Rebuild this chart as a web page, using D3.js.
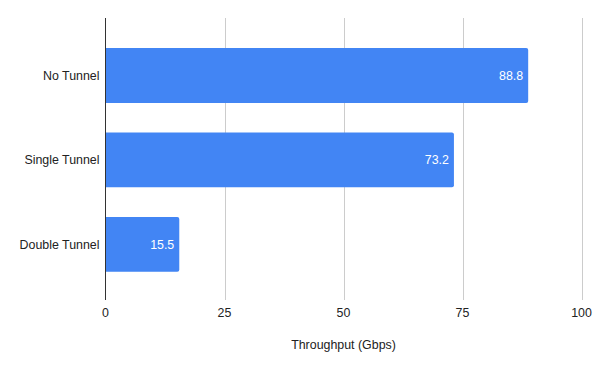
<!DOCTYPE html>
<html>
<head>
<meta charset="utf-8">
<script src="https://cdn.jsdelivr.net/npm/d3@7"></script>
<style>
  html, body { margin: 0; padding: 0; background: #fff; }
  svg { display: block; font-family: "Liberation Sans", Arial, sans-serif; }
</style>
</head>
<body>
<svg id="chart" width="600" height="371"></svg>
<script>
const categories = ["No Tunnel", "Single Tunnel", "Double Tunnel"];
const values = [88.8, 73.2, 15.5];
const tickValues = [0, 25, 50, 75, 100];
const axisTitle = "Throughput (Gbps)";

(function () {
const svg = d3.select("#chart");
const mLeft = 105.5, mRight = 581.5, mTop = 18, mBottom = 300;
const fs = 12.4;

const x = d3.scaleLinear().domain([0, 100]).range([mLeft, mRight]);
const y = d3.scaleBand().domain(categories).range([mTop + 0.5, mBottom + 1.3]).padding(0.35);

// gridlines
svg.append("g")
  .selectAll("line")
  .data(tickValues.filter(d => d > 0))
  .join("line")
  .attr("x1", d => Math.round(x(d)) + 0.5)
  .attr("x2", d => Math.round(x(d)) + 0.5)
  .attr("y1", mTop)
  .attr("y2", mBottom)
  .attr("stroke", "#cccccc")
  .attr("stroke-width", 1);

// bars
const data = categories.map((c, i) => ({ c, v: values[i] }));
svg.append("g")
  .selectAll("path")
  .data(data)
  .join("path")
  .attr("fill", "#4285f4")
  .attr("d", d => {
    const x0 = x(0), x1 = x(d.v), y0 = y(d.c), h = y.bandwidth(), r = 2;
    return `M${x0},${y0}H${x1 - r}Q${x1},${y0} ${x1},${y0 + r}V${y0 + h - r}Q${x1},${y0 + h} ${x1 - r},${y0 + h}H${x0}Z`;
  });

// value labels
svg.append("g")
  .selectAll("text")
  .data(data)
  .join("text")
  .attr("x", d => x(d.v) - 5)
  .attr("y", d => y(d.c) + y.bandwidth() / 2)
  .attr("dy", "0.35em")
  .attr("text-anchor", "end")
  .attr("fill", "#ffffff")
  .attr("font-size", fs)
  .text(d => d.v.toFixed(1));

// axis line
svg.append("line")
  .attr("x1", mLeft).attr("x2", mLeft)
  .attr("y1", mTop).attr("y2", mBottom)
  .attr("stroke", "#333333").attr("stroke-width", 1);

// category labels
svg.append("g")
  .selectAll("text")
  .data(categories)
  .join("text")
  .attr("x", mLeft - 6)
  .attr("y", d => y(d) + y.bandwidth() / 2)
  .attr("dy", "0.35em")
  .attr("text-anchor", "end")
  .attr("fill", "#222222")
  .attr("font-size", fs)
  .text(d => d);

// x tick labels
svg.append("g")
  .selectAll("text")
  .data(tickValues)
  .join("text")
  .attr("x", d => x(d))
  .attr("y", 313)
  .attr("dy", "0.35em")
  .attr("text-anchor", "middle")
  .attr("fill", "#222222")
  .attr("font-size", fs)
  .text(d => d);

// axis title
svg.append("text")
  .attr("x", (mLeft + mRight) / 2)
  .attr("y", 345)
  .attr("dy", "0.35em")
  .attr("text-anchor", "middle")
  .attr("fill", "#222222")
  .attr("font-size", fs)
  .text(axisTitle);
})();
</script>
</body>
</html>
